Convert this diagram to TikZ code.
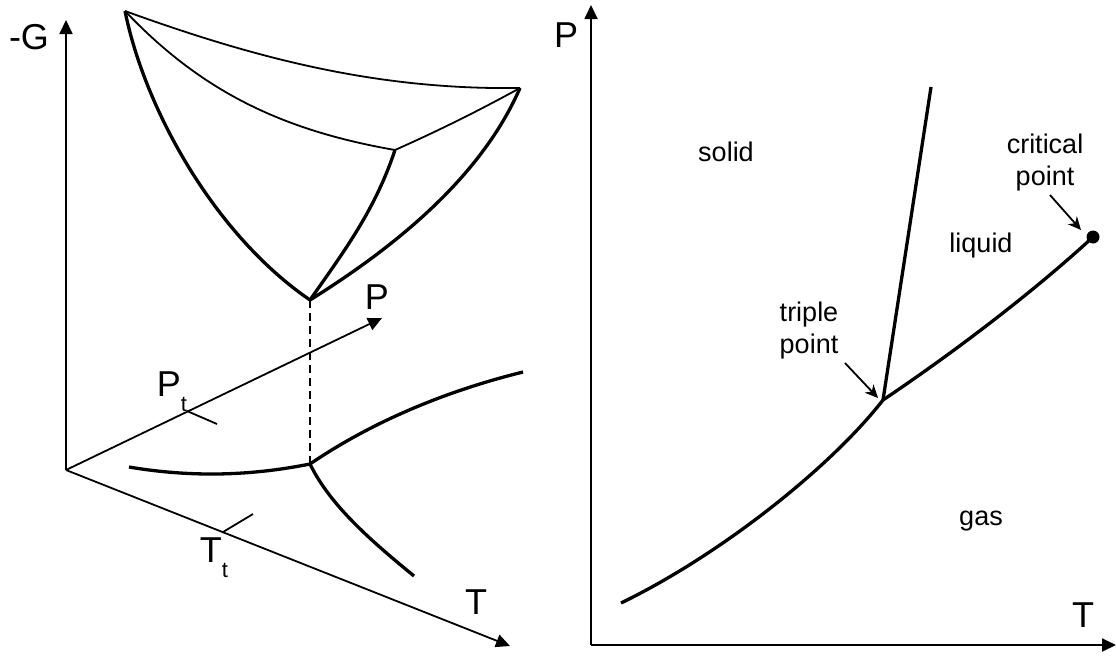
\documentclass[tikz,border=0pt]{standalone}
\usepackage{fontspec}
\setmainfont{Liberation Sans}
\usetikzlibrary{arrows.meta}
\newcommand{\lowsub}[1]{\raisebox{-0.42em}{\fontsize{22}{22}\selectfont #1}}
\tikzset{
  axis/.style={line width=1.8pt, -{Triangle[length=14pt,width=13pt]}},
  thinline/.style={line width=1.8pt, line join=round},
  phaseline/.style={line width=3.3pt, line join=round},
  pointer/.style={line width=1.8pt, -{Stealth[length=13pt,width=12pt,inset=4pt]}},
  biglabel/.style={font=\fontsize{36}{40}\selectfont, inner sep=0pt},
  region/.style={font=\fontsize{27}{32}\selectfont, inner sep=0pt, align=center},
}

\begin{document}
\begin{tikzpicture}[x=1pt, y=-1pt]
  \useasboundingbox (0,0) rectangle (1116,656);

  % left: Gibbs surfaces over the (T,P) plane
  \coordinate (O) at (66,470);
  \coordinate (Gtip) at (66,20);
  \coordinate (Ptip) at (382,318);
  \coordinate (Ttip) at (510,646);
  \draw[axis] (O) -- (Gtip);
  \draw[axis] (O) -- (Ptip);
  \draw[axis] (O) -- (Ttip);
  \node[biglabel] (glab) at (29,37) {-G};
  \node[biglabel] (plab) at (377,297) {P};
  \node[biglabel] (tlab) at (476,602) {T};

  \coordinate (ptick) at (187,411);
  \coordinate (ptickend) at (217,424);
  \coordinate (ttick) at (223,532);
  \coordinate (ttickend) at (253,514);
  \draw[thinline] (ptick) -- (ptickend);
  \draw[thinline] (ttick) -- (ttickend);
  \node[biglabel] (ptlab) at (172,392) {P\lowsub{t}};
  \node[biglabel] (ttlab) at (214,558) {T\lowsub{t}};

  \coordinate (A) at (125,11);
  \coordinate (B) at (520,88);
  \coordinate (C) at (395,150);
  \coordinate (D) at (310,300);
  \draw[thinline] (A) .. controls (260,60) and (380,90) .. (B);
  \draw[thinline] (A) .. controls (200,90) and (280,130) .. (C);
  \draw[thinline] (C) .. controls (440,130) and (480,110) .. (B);
  \draw[phaseline] (C) .. controls (375,210) and (345,250) .. (D);
  \draw[phaseline] (A) .. controls (145,110) and (215,235) .. (D);
  \draw[phaseline] (B) .. controls (480,180) and (390,250) .. (D);

  \coordinate (E) at (310,464);
  \coordinate (solidend) at (129,467);
  \coordinate (liqend) at (523,372);
  \coordinate (gasend) at (414,576);
  \draw[thinline, dash pattern=on 8pt off 5pt] (D) -- (E);
  \draw[phaseline] (solidend) .. controls (200,479) and (260,474) .. (E);
  \draw[phaseline] (E) .. controls (360,430) and (430,395) .. (liqend);
  \draw[phaseline] (E) .. controls (330,505) and (370,540) .. (gasend);

  % right: phase diagram
  \coordinate (O2) at (591,645);
  \coordinate (P2tip) at (591,5);
  \coordinate (T2tip) at (1116,645);
  \draw[axis] (O2) -- (P2tip);
  \draw[axis] (O2) -- (T2tip);
  \node[biglabel] (p2lab) at (566,35) {P};
  \node[biglabel] (t2lab) at (1083,615) {T};

  \coordinate (TP) at (883,400);
  \coordinate (meltend) at (931,87);
  \coordinate (sublend) at (621,603);
  \coordinate (CP) at (1093,237);
  \draw[phaseline] (TP) -- (meltend);
  \draw[phaseline] (sublend) .. controls (720,555) and (830,468) .. (TP);
  \draw[phaseline] (TP) .. controls (950,355) and (1030,295) .. (CP);
  \fill (CP) circle (6.5);

  \node[region] (solid) at (726,152) {solid};
  \node[region] (liquid) at (981,246) {liquid};
  \node[region] (gas) at (981,521) {gas};
  \node[region] (triple) at (809,331) {triple\\point};
  \node[region] (critical) at (1045,163) {critical\\point};
  \coordinate (tparrow) at (845,363);
  \coordinate (tptip) at (878,398);
  \coordinate (cparrow) at (1050,195);
  \coordinate (cptip) at (1081,230);
  \draw[pointer] (tparrow) -- (tptip);
  \draw[pointer] (cparrow) -- (cptip);
\end{tikzpicture}
\end{document}
